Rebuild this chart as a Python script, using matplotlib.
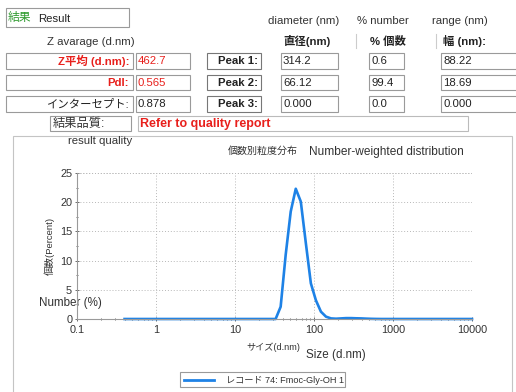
import matplotlib
matplotlib.use('Agg')
import matplotlib.pyplot as plt
from matplotlib.patches import Rectangle
import numpy as np

plt.rcParams['font.family'] = ['Liberation Sans', 'Noto Sans CJK JP']

# size classes (d.nm) and number distribution (%)
sizes = [0.4000, 0.4632, 0.5365, 0.6213, 0.7195, 0.8332, 0.9649, 1.117, 1.294, 1.499,
         1.736, 2.010, 2.328, 2.696, 3.122, 3.615, 4.187, 4.849, 5.615, 6.503,
         7.531, 8.721, 10.10, 11.70, 13.54, 15.69, 18.17, 21.04, 24.36, 28.21,
         32.67, 37.84, 43.82, 50.75, 58.77, 68.06, 78.82, 91.28, 105.7, 122.4,
         141.8, 164.2, 190.1, 220.2, 255.0, 295.3, 342.0, 396.1, 458.7, 531.2,
         615.1, 712.4, 825.0, 955.4, 1106, 1281, 1484, 1718, 1990, 2305,
         2669, 3091, 3580, 4145, 4801, 5560, 6439, 7456, 8635, 10000]
number_pct = [0] * 30 + [0.0, 2.1, 11.0, 18.4, 22.3, 20.1, 13.0, 6.1, 3.2, 1.25,
                         0.4, 0.1, 0.05, 0.1, 0.15, 0.15, 0.12, 0.1, 0.06, 0.03,
                         0.01] + [0] * 19

x_ticks = [0.1, 1, 10, 100, 1000, 10000]
x_tick_labels = ['0.1', '1', '10', '100', '1000', '10000']
y_ticks = [0, 5, 10, 15, 20, 25]

# results table
row_labels = ['Z平均 (d.nm):', 'PdI:', 'インターセプト:']
row_values = ['462.7', '0.565', '0.878']
row_colors = ['#e8201c', '#e8201c', '#222222']
peak_labels = ['Peak 1:', 'Peak 2:', 'Peak 3:']
peak_diam = ['314.2', '66.12', '0.000']
peak_pct = ['0.6', '99.4', '0.0']
peak_width = ['88.22', '18.69', '0.000']

W, H = 516, 392
fig = plt.figure(figsize=(W / 100, H / 100), dpi=100)
bg = fig.add_axes([0, 0, 1, 1], zorder=0)
bg.set_xlim(0, W)
bg.set_ylim(H, 0)
bg.axis('off')

edge = '#9a9a9a'
fs = 8.2


def box(x0, y0, x1, y1, ec=edge, lw=0.8):
    bg.add_patch(Rectangle((x0, y0), x1 - x0, y1 - y0, fc='white', ec=ec, lw=lw))


box(6, 8, 129, 27)
bg.text(8, 18, '結果', color='#2e9a2e', fontsize=8.5, va='center')
bg.text(38, 19, 'Result', color='#222222', fontsize=fs, va='center')
bg.text(91, 42, 'Z avarage (d.nm)', color='#333333', fontsize=fs, ha='center', va='center')

bg.text(304, 21, 'diameter (nm)', color='#333333', fontsize=fs, ha='center', va='center')
bg.text(383, 21, '% number', color='#333333', fontsize=fs, ha='center', va='center')
bg.text(460, 21, 'range (nm)', color='#333333', fontsize=fs, ha='center', va='center')
bg.text(283, 41, '直径(nm)', color='#222222', fontsize=fs, weight='bold', va='center')
bg.text(370, 41, '% 個数', color='#222222', fontsize=fs, weight='bold', va='center')
bg.text(443, 41, '幅 (nm):', color='#222222', fontsize=fs, weight='bold', va='center')
for sx in [356, 436]:
    bg.plot([sx, sx], [34, 48], color='#cccccc', lw=0.8)

row_y = [(53, 69), (75, 90), (96, 112)]
for i, (y0, y1) in enumerate(row_y):
    yc = (y0 + y1) / 2
    box(6, y0, 133, y1)
    bg.text(129, yc, row_labels[i], color=row_colors[i], fontsize=fs,
            weight='bold' if i < 2 else 'normal', ha='right', va='center')
    box(136, y0, 190, y1)
    bg.text(138, yc, row_values[i], color=row_colors[i], fontsize=fs, va='center')
    box(207, y0, 261, y1, ec='#777777')
    bg.text(258, yc, peak_labels[i], color='#222222', fontsize=fs, weight='bold',
            ha='right', va='center')
    box(281, y0, 338, y1)
    bg.text(283, yc, peak_diam[i], color='#222222', fontsize=fs, va='center')
    box(369, y0, 404, y1)
    bg.text(371, yc, peak_pct[i], color='#222222', fontsize=fs, va='center')
    box(441, y0, 518, y1)
    bg.text(443, yc, peak_width[i], color='#222222', fontsize=fs, va='center')

box(50, 116, 131, 131)
bg.text(53, 124, '結果品質:', color='#333333', fontsize=8.8, va='center')
box(138, 116, 468, 131, ec='#bbbbbb')
bg.text(140, 123.5, 'Refer to quality report', color='#e8201c', fontsize=9,
        weight='bold', va='center')

# chart panel
box(13, 136, 512, 396, ec='#c4c4c4')
bg.text(100, 141, 'result quality', color='#333333', fontsize=fs, ha='center', va='center')
bg.text(263, 151, '個数別粒度分布', color='#333333', fontsize=7.2, ha='center', va='center')
bg.text(386, 152, 'Number-weighted distribution', color='#333333', fontsize=8.6,
        ha='center', va='center')
bg.text(50, 246, '個数(Percent)', color='#333333', fontsize=6.8, rotation=90,
        ha='center', va='center')
bg.text(70, 303, 'Number (%)', color='#333333', fontsize=8.4, ha='center', va='center')
bg.text(273, 347, 'サイズ(d.nm)', color='#333333', fontsize=6.6, ha='center', va='center')
bg.text(336, 355, 'Size (d.nm)', color='#333333', fontsize=8.4, ha='center', va='center')

box(180, 372, 345, 387, ec='#9a9a9a')
bg.plot([184, 214], [379.5, 379.5], color='#1e82e6', lw=2)
bg.text(226, 380, 'レコード 74: Fmoc-Gly-OH 1', color='#333333', fontsize=6.6,
        va='center')

# distribution plot
ax = fig.add_axes([77 / W, (H - 319) / H, (472 - 77) / W, (319 - 173) / H], zorder=1)
ax.patch.set_alpha(0)
ax.plot(sizes, number_pct, color='#1e82e6', lw=1.9, solid_joinstyle='round', clip_on=False)
ax.set_xscale('log')
ax.set_xlim(0.1, 10000)
ax.set_ylim(0, 25)
ax.set_xticks(x_ticks)
ax.set_xticklabels(x_tick_labels)
ax.set_yticks(y_ticks)
ax.set_yticks(np.arange(0, 25, 2.5), minor=True)
ax.tick_params(axis='both', which='major', labelsize=7.8, colors='#555555',
               labelcolor='#333333', length=3, width=0.6)
ax.tick_params(axis='x', which='major', direction='inout', pad=3)
ax.tick_params(axis='y', which='major', direction='inout', pad=2)
ax.tick_params(axis='both', which='minor', direction='inout', length=2,
               width=0.6, colors='#555555')
ax.grid(True, which='major', ls=(0, (1, 2)), color='#b8b8b8', lw=0.7)
for s in ['top', 'right']:
    ax.spines[s].set_visible(False)
for s in ['left', 'bottom']:
    ax.spines[s].set_color('#9a9a9a')
    ax.spines[s].set_linewidth(0.8)
ax.axhline(25, ls=(0, (1, 2)), color='#b8b8b8', lw=0.7)
ax.axvline(10000, ls=(0, (1, 2)), color='#b8b8b8', lw=0.7)

fig.savefig('out.png', dpi=100)
